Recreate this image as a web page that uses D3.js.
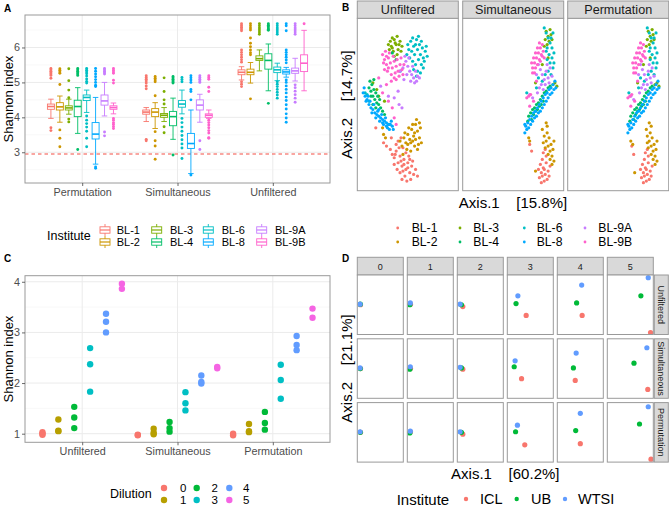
<!DOCTYPE html>
<html><head><meta charset="utf-8">
<script src="https://cdn.jsdelivr.net/npm/d3@7"></script>
<style>
body{margin:0;background:#fff}
text{font-family:"Liberation Sans",Arial,Helvetica,sans-serif}
</style>
</head><body>
<svg id="chart" width="669" height="507"></svg>
<script>
// ---------------- DATA ----------------
// Panel A
const boxGroups = ["BL-1","BL-2","BL-3","BL-4","BL-6","BL-8","BL-9A","BL-9B"];
const boxColors = ["#F8766D","#CD9600","#7CAE00","#00BE67","#00BFC4","#00A9FF","#C77CFF","#FF61CC"];
const conditionsA = ["Permutation","Simultaneous","Unfiltered"];
const yTicksA = [3,4,5,6];
const thresholdA = 2.95;
// [lower whisker, q1, median, q3, upper whisker]
const statsPermutation = [[3.97,4.23,4.31,4.38,4.52],[3.86,4.21,4.30,4.42,4.61],[4.09,4.21,4.27,4.33,4.52],[3.54,4.02,4.31,4.49,4.85],[4.14,4.48,4.57,4.64,4.78],[2.66,3.38,3.52,3.85,4.57],[4.04,4.35,4.47,4.64,5.00],[4.10,4.23,4.28,4.33,4.41]];
const statsSimultaneous = [[3.88,4.09,4.15,4.21,4.28],[3.68,4.02,4.15,4.25,4.42],[3.88,4.00,4.06,4.11,4.28],[3.37,3.76,4.02,4.17,4.55],[4.10,4.29,4.38,4.48,4.78],[2.39,3.11,3.25,3.54,4.21],[3.86,4.21,4.35,4.50,4.66],[3.97,4.00,4.06,4.10,4.21]];
const statsUnfiltered = [[5.07,5.22,5.29,5.36,5.45],[4.98,5.22,5.29,5.38,5.57],[5.33,5.63,5.68,5.76,5.93],[4.76,5.38,5.63,5.82,6.10],[5.05,5.28,5.36,5.44,5.55],[5.15,5.24,5.30,5.36,5.43],[5.04,5.26,5.33,5.41,5.69],[4.76,5.31,5.55,5.79,6.49]];
const outliersPermutation = [[5.40,5.36,5.32,5.28,5.24,5.20,5.12,3.70,3.62],[5.39,5.35,5.30,5.26,4.94,3.64,3.40,3.16],[5.39,5.05,4.78,4.56,3.95,3.87],[5.40,5.36,5.32,5.28,5.24,5.20,3.08],[5.40,5.35,5.30,5.25,5.18,5.10,5.03,4.98,4.04,3.92,3.82,3.72,3.60,3.40,3.16],[5.40,5.32,5.24,5.16,5.08,5.00,4.92,4.88,2.58,2.54],[5.40,5.36,5.32,5.28,5.24,3.58,3.47],[5.40,5.35,5.30,5.26,5.06,4.98,3.97,3.92,3.85,3.80,3.74,3.68]];
const outliersSimultaneous = [[5.19,5.14,5.09,5.04,4.98,4.90,4.82,3.37,3.33],[5.17,5.12,5.07,5.02,4.62,3.59,3.33,3.18,2.80],[5.13,4.74,4.50,4.38,3.73,3.56],[5.17,5.13,5.09,5.05,5.01,4.98,2.92],[5.14,5.08,5.02,3.97,3.85,3.72,3.60,3.48,3.36,3.24,3.12,2.82],[5.19,5.13,5.07,5.00,4.80,4.74,4.50,2.35],[5.19,5.14,5.09,5.04,5.00,3.33,3.08],[5.19,5.14,5.09,4.86,4.74,3.92,3.85,3.78,3.70,3.62,3.55,3.42,3.40]];
const outliersUnfiltered = [[6.68,6.63,6.58,6.53,6.48,5.93,5.86,5.79,5.72,5.65,5.58,5.02,4.95,4.88],[6.68,6.62,6.56,6.50,6.27,6.12,6.02,5.93,5.85,5.79,4.53],[6.68,6.62,6.56,6.50,6.44,6.38],[6.68,6.64,6.60,6.56,6.52,6.49,4.40],[6.68,6.62,6.56,6.50,6.44,6.38,5.02,4.95,4.88,4.80,4.72,4.64,4.55],[6.68,6.62,6.48,5.93,5.86,5.79,5.72,5.64,5.56,5.07,5.00,4.90,4.80,4.70,4.58,4.48,4.36,4.24,4.10,3.98,3.86],[6.68,6.62,6.56,6.50,6.44,6.38,4.93,4.85,4.75,4.65,4.55,4.43],[6.68]];

// Panel B (PCoA scores, arbitrary units 0-100)
const facetsB = ["Unfiltered","Simultaneous","Permutation"];
const pcoaUnfiltered = [
[[17,36],[25,27],[28,25],[32,23],[34,20],[36,18],[38,22],[40,15],[42,19],[44,13],[46,17],[48,11],[50,15],[52,9],[54,13],[56,8],[45,24],[40,28],[43,30],[48,21],[51,19],[47,7],[53,5],[58,11],[36,14],[39,11],[42,9],[44,5],[50,12],[46,14],[41,24],[38,26],[55,16],[60,7],[33,30],[45,10],[49,4],[43,16],[37,20],[52,17]],
[[24,36],[25,32],[27,30],[42,28],[44,25],[46,30],[48,27],[50,32],[52,29],[54,35],[56,31],[58,38],[60,34],[62,30],[64,27],[57,25],[53,22],[49,23],[45,20],[60,23],[55,28],[51,36],[59,41],[63,36],[47,33],[61,26],[57,33],[53,27],[55,38],[62,39],[58,29],[50,26]],
[[30,86],[32,88],[34,84],[36,89],[38,86],[40,83],[42,88],[44,85],[35,82],[39,80],[33,85],[41,86],[37,87],[43,82],[31,83],[36,79],[14,63],[20,55],[26,52],[18,59],[39,91],[34,90]],
[[10,60],[12,58],[13,62],[14,55],[15,59],[16,53],[17,57],[18,51],[19,55],[20,50],[21,53],[12,55],[14,50],[22,48],[24,46],[31,38],[17,48],[26,44],[34,81],[38,77],[11,64],[15,65]],
[[50,86],[53,88],[56,85],[59,89],[62,86],[65,84],[68,82],[54,82],[57,80],[60,83],[63,80],[66,78],[52,78],[55,76],[58,74],[61,77],[64,74],[67,76],[70,79],[56,71],[60,70],[63,69],[51,83],[58,86],[49,80],[64,88],[8,56],[10,52],[6,57],[42,70],[55,90],[61,91],[69,85],[66,72],[59,67]],
[[4,57],[6,55],[8,53],[10,50],[12,48],[14,47],[16,45],[18,44],[20,43],[22,42],[24,41],[26,40],[28,39],[30,38],[32,38],[34,37],[11,52],[13,45],[17,42],[21,40],[25,38],[9,55],[15,50],[19,46],[23,44],[27,42],[29,36],[33,40],[7,52],[35,35],[5,60],[20,47],[24,39],[28,37],[31,35]],
[[48,76],[50,73],[52,70],[54,68],[56,66],[58,70],[60,67],[47,79],[51,78],[55,73],[53,64],[57,63],[45,72],[42,70],[40,58],[44,48],[22,61],[30,55],[36,54],[41,50],[49,68],[46,65],[59,64],[62,66]],
[[24,80],[26,77],[28,74],[30,78],[32,75],[34,72],[36,76],[38,73],[40,70],[42,74],[44,71],[27,82],[29,70],[33,68],[37,69],[41,67],[25,75],[31,81],[35,79],[39,77],[43,78],[45,68],[30,72],[36,66],[28,79],[46,74],[24,57],[30,52],[34,48],[36,42],[38,38],[20,66],[28,62],[33,64],[26,71],[38,65]]
];
const pcoaSimultaneous = [
[[77,6],[79,9],[81,12],[83,8],[85,5],[78,14],[80,17],[82,11],[84,15],[86,10],[88,13],[79,3],[82,4],[76,11],[84,19],[81,21],[87,7],[67,26],[69,22],[83,23],[80,7]],
[[80,35],[82,31],[84,28],[86,25],[88,22],[90,19],[85,33],[87,30],[89,26],[91,23],[83,24],[86,20],[88,17],[90,14],[92,28],[81,27],[85,37],[66,30],[67,28],[73,10],[92,16],[84,39]],
[[84,94],[86,91],[88,95],[83,89],[87,88],[85,86],[89,92],[82,85],[90,89],[93,63],[91,62],[95,61],[80,74],[86,78],[73,63]],
[[66,43],[68,45],[70,47],[72,48],[74,50],[76,51],[78,53],[80,55],[82,57],[84,58],[86,60],[88,61],[71,44],[75,47],[79,50],[65,40],[69,41],[73,46],[77,49],[81,52]],
[[82,96],[84,93],[86,90],[88,87],[90,84],[92,81],[89,90],[87,80],[85,77],[88,75],[91,72],[84,82],[90,78],[86,70],[83,68],[89,68],[92,75],[85,84],[91,93],[76,66],[80,64],[64,57],[74,60]],
[[62,33],[63,37],[65,39],[67,41],[69,43],[71,45],[73,46],[75,48],[77,50],[79,52],[81,54],[83,56],[85,57],[87,59],[89,60],[91,62],[93,64],[64,35],[66,36],[70,40],[74,43],[78,46],[82,50],[86,54],[90,57],[94,60],[62,38],[68,38],[72,42],[76,45],[80,48],[84,52],[88,56],[92,59]],
[[76,74],[78,71],[80,68],[82,65],[84,70],[86,66],[88,72],[79,62],[83,62],[87,63],[74,68],[77,60],[81,59],[75,57],[67,56],[70,54],[90,67],[85,74]],
[[70,72],[72,75],[74,78],[76,81],[78,84],[80,86],[71,78],[73,81],[75,84],[77,87],[79,80],[81,82],[69,75],[73,72],[77,77],[75,74],[82,78],[70,69],[78,76],[80,79],[66,55],[64,54],[68,56],[71,52],[67,49],[72,69],[74,64]]
];
const pcoaPermutation = [
[[74,6],[76,9],[78,12],[80,8],[82,5],[75,14],[77,17],[79,11],[81,15],[83,10],[85,13],[76,3],[79,4],[73,11],[81,19],[78,21],[84,7],[64,25],[66,20],[80,23],[77,7]],
[[79,35],[80,31],[82,28],[84,25],[86,22],[88,19],[83,33],[85,30],[87,26],[89,23],[81,24],[84,20],[86,17],[88,14],[90,28],[80,27],[84,37],[63,28],[65,26],[67,9],[90,16],[82,39]],
[[81,94],[83,91],[85,95],[80,89],[84,88],[82,86],[86,92],[79,85],[87,89],[90,63],[88,62],[92,61],[76,74],[83,78],[70,63]],
[[63,43],[65,45],[67,47],[69,48],[71,50],[73,51],[75,53],[77,55],[79,57],[81,58],[83,60],[85,61],[68,44],[72,47],[76,50],[62,40],[66,41],[70,46],[74,49],[78,52]],
[[80,96],[82,93],[84,90],[86,87],[88,84],[90,81],[87,90],[85,80],[83,77],[86,75],[89,72],[82,82],[88,78],[84,70],[81,68],[87,68],[90,75],[83,84],[89,93],[73,66],[77,64],[61,57],[71,60]],
[[60,33],[61,37],[63,39],[65,41],[67,43],[69,45],[71,46],[73,48],[75,50],[77,52],[79,54],[81,56],[83,57],[85,59],[87,60],[89,62],[91,64],[62,35],[64,36],[68,40],[72,43],[76,46],[80,50],[84,54],[88,57],[92,60],[60,38],[66,38],[70,42],[74,45],[78,48],[82,52],[86,56],[90,59]],
[[73,74],[75,71],[77,68],[79,65],[81,70],[83,66],[85,72],[76,62],[80,62],[84,63],[71,68],[74,60],[78,59],[72,57],[63,55],[66,53],[87,67],[82,74]],
[[66,72],[68,75],[70,78],[72,81],[74,84],[76,86],[67,78],[69,81],[71,84],[73,87],[75,80],[77,82],[65,75],[69,72],[73,77],[71,74],[78,78],[66,69],[74,76],[76,79],[62,55],[60,54],[64,56],[67,52],[63,49],[68,69],[70,64]]
];
const axisTitleB = ["Axis.1    [15.8%]","Axis.2    [14.7%]"];

// Panel C
const conditionsC = ["Unfiltered","Simultaneous","Permutation"];
const dilutions = ["0","1","2","3","4","5"];
const dilutionColors = ["#F8766D","#B79F00","#00BA38","#00BFC4","#619CFF","#F564E3"];
const yTicksC = [1,2,3,4];
const shannonUnfiltered = [[1.03,1.00,0.98],[1.28,1.06,1.05],[1.53,1.32,1.11],[2.69,2.37,1.83],[3.37,3.21,3.00],[3.96,3.86]];
const shannonSimultaneous = [[0.98,0.97],[1.10,1.02,0.99],[1.23,1.11,1.04],[1.82,1.60,1.46],[2.15,2.02,1.99],[2.32,2.29]];
const shannonPermutation = [[1.00,0.97],[1.19,1.05,1.03],[1.43,1.21,1.08],[2.36,2.06,1.69],[2.93,2.75,2.65],[3.47,3.29]];

// Panel D  (per dilution: ICL, UB, WTSI as [Axis.1, Axis.2])
const institutesD = ["ICL","UB","WTSI"];
const instituteColors = ["#F8766D","#00BA38","#619CFF"];
const rowsD = ["Unfiltered","Simultaneous","Permutation"];
const pcoaDUnfiltered = [[[0.07,0.50],[0.065,0.51],[0.06,0.51]],[[0.07,0.51],[0.055,0.50],[0.065,0.53]],[[0.12,0.47],[0.09,0.50],[0.06,0.51]],[[0.41,0.32],[0.19,0.52],[0.23,0.65]],[[0.54,0.32],[0.42,0.53],[0.53,0.83]],[[0.94,0.03],[0.73,0.65],[0.89,0.955]]];
const pcoaDSimultaneous = [[[0.07,0.50],[0.065,0.50],[0.06,0.51]],[[0.07,0.50],[0.055,0.49],[0.065,0.53]],[[0.12,0.49],[0.09,0.51],[0.06,0.52]],[[0.31,0.33],[0.15,0.53],[0.17,0.63]],[[0.39,0.30],[0.35,0.51],[0.41,0.76]],[[0.88,0.15],[0.58,0.59],[0.86,0.85]]];
const pcoaDPermutation = [[[0.07,0.50],[0.065,0.50],[0.06,0.51]],[[0.07,0.51],[0.055,0.49],[0.065,0.52]],[[0.12,0.47],[0.09,0.50],[0.06,0.51]],[[0.38,0.29],[0.18,0.51],[0.22,0.62]],[[0.50,0.31],[0.40,0.53],[0.50,0.82]],[[0.95,0.05],[0.70,0.64],[0.89,0.93]]];
const axisTitleD = ["Axis.1    [60.2%]","Axis.2    [21.1%]"];

// ---------------- DRAWING ----------------
const svg = d3.select("#chart");
const BORDER = "#9A9A9A", GRID = "#EBEBEB", GRIDMINOR = "#F4F4F4", TICKTXT = "#4D4D4D";

function text(g, x, y, s, o = {}) {
  const t = g.append("text").attr("x", x).attr("y", y).text(s)
    .attr("font-size", o.size || 11).attr("fill", o.fill || "#000")
    .attr("text-anchor", o.anchor || "start")
    .attr("dominant-baseline", o.base || "central")
    .style("white-space", "pre");
  if (o.weight) t.attr("font-weight", o.weight);
  if (o.rotate) t.attr("transform", `rotate(${o.rotate},${x},${y})`);
  return t;
}
function styleAxis(sel) {
  sel.select(".domain").remove();
  sel.selectAll(".tick line").attr("stroke", "#444").attr("stroke-width", 0.8);
  sel.selectAll(".tick text").attr("fill", TICKTXT).attr("font-size", 10.8)
    .attr("font-family", '"Liberation Sans",Arial,sans-serif');
}
const intFmt = d3.format("d");

// panel letters
text(svg, 4, 8, "A", {size: 10, weight: "bold"});
text(svg, 342, 7, "B", {size: 10, weight: "bold"});
text(svg, 4, 258, "C", {size: 10, weight: "bold"});
text(svg, 342, 258, "D", {size: 10, weight: "bold"});

// ===== Panel A =====
(function(){
  const L = 25, R = 330, T = 15, B = 183;
  const g = svg.append("g");
  const x = d3.scalePoint().domain(conditionsA).range([L, R]).padding(0.6);
  const y = d3.scaleLinear().domain([2.12, 6.93]).range([B, T]);
  const minor = [2.5,3.5,4.5,5.5,6.5];
  g.selectAll(".mi").data(minor).join("line").attr("x1", L).attr("x2", R)
    .attr("y1", d => y(d)).attr("y2", d => y(d)).attr("stroke", GRIDMINOR).attr("stroke-width", 0.6);
  g.selectAll(".ma").data(yTicksA).join("line").attr("x1", L).attr("x2", R)
    .attr("y1", d => y(d)).attr("y2", d => y(d)).attr("stroke", GRID).attr("stroke-width", 1);
  g.selectAll(".vx").data(conditionsA).join("line").attr("y1", T).attr("y2", B)
    .attr("x1", d => x(d)).attr("x2", d => x(d)).attr("stroke", GRID).attr("stroke-width", 1);
  g.append("line").attr("x1", L).attr("x2", R).attr("y1", y(thresholdA)).attr("y2", y(thresholdA))
    .attr("stroke", "#F8766D").attr("stroke-width", 1.6).attr("stroke-dasharray", "3.5,3").attr("opacity", 0.85);
  const stats = [statsPermutation, statsSimultaneous, statsUnfiltered];
  const outs = [outliersPermutation, outliersSimultaneous, outliersUnfiltered];
  const slot = x.step() * 0.75 / boxGroups.length;
  const bw = 7, cw = 5.5;
  conditionsA.forEach((c, ci) => {
    boxGroups.forEach((b, bi) => {
      const cx = x(c) + (bi - (boxGroups.length - 1) / 2) * slot;
      const s = stats[ci][bi], col = boxColors[bi];
      const bg = g.append("g");
      bg.selectAll("circle").data(outs[ci][bi]).join("circle")
        .attr("cx", cx).attr("cy", d => y(d)).attr("r", 1.45).attr("fill", col);
      bg.append("line").attr("x1", cx).attr("x2", cx).attr("y1", y(s[0])).attr("y2", y(s[4]))
        .attr("stroke", col).attr("stroke-width", 0.9);
      [s[0], s[4]].forEach(v => bg.append("line").attr("x1", cx - cw/2).attr("x2", cx + cw/2)
        .attr("y1", y(v)).attr("y2", y(v)).attr("stroke", col).attr("stroke-width", 0.9));
      bg.append("rect").attr("x", cx - bw/2).attr("width", bw).attr("y", y(s[3]))
        .attr("height", y(s[1]) - y(s[3])).attr("fill", "#fff").attr("stroke", col).attr("stroke-width", 0.9);
      bg.append("line").attr("x1", cx - bw/2).attr("x2", cx + bw/2).attr("y1", y(s[2])).attr("y2", y(s[2]))
        .attr("stroke", col).attr("stroke-width", 1.6);
    });
  });
  g.append("rect").attr("x", L).attr("y", T).attr("width", R - L).attr("height", B - T)
    .attr("fill", "none").attr("stroke", BORDER).attr("stroke-width", 1);
  const ay = g.append("g").attr("transform", `translate(${L},0)`)
    .call(d3.axisLeft(y).tickValues(yTicksA).tickFormat(intFmt).tickSize(3).tickPadding(2));
  styleAxis(ay);
  const ax = g.append("g").attr("transform", `translate(0,${B})`)
    .call(d3.axisBottom(x).tickSize(3).tickPadding(2));
  styleAxis(ax);
  text(g, 8, (T + B) / 2, "Shannon index", {size: 13, anchor: "middle", rotate: -90});
  // legend
  text(g, 47, 236, "Institute", {size: 12.5});
  const keyX = [105, 156.7, 208.3, 261.7], labX = [116.7, 170, 221.7, 275], rowY = [230, 242];
  boxGroups.forEach((b, i) => {
    const kx = keyX[Math.floor(i / 2)], ky = rowY[i % 2], col = boxColors[i];
    g.append("line").attr("x1", kx).attr("x2", kx).attr("y1", ky - 6).attr("y2", ky + 6).attr("stroke", col).attr("stroke-width", 0.9);
    g.append("rect").attr("x", kx - 5).attr("y", ky - 3.2).attr("width", 10).attr("height", 6.4)
      .attr("fill", "#fff").attr("stroke", col).attr("stroke-width", 0.9);
    g.append("line").attr("x1", kx - 5).attr("x2", kx + 5).attr("y1", ky).attr("y2", ky).attr("stroke", col).attr("stroke-width", 1.2);
    text(g, labX[Math.floor(i / 2)], ky, b, {size: 11});
  });
})();

// ===== Panel B =====
(function(){
  const lefts = [357.3, 462.7, 567.7], W = 101, T = 18.3, B = 190.7, ST = 1;
  const g = svg.append("g");
  const data = [pcoaUnfiltered, pcoaSimultaneous, pcoaPermutation];
  facetsB.forEach((f, fi) => {
    const L = lefts[fi];
    const x = d3.scaleLinear().domain([0, 100]).range([L + 2, L + W - 2]);
    const y = d3.scaleLinear().domain([0, 100]).range([B - 3, T + 3]);
    g.append("rect").attr("x", L).attr("y", T).attr("width", W).attr("height", B - T).attr("fill", "#fff");
    data[fi].forEach((pts, gi) => {
      g.append("g").selectAll("circle").data(pts).join("circle")
        .attr("cx", d => x(d[0])).attr("cy", d => y(d[1])).attr("r", 1.6).attr("fill", boxColors[gi]);
    });
    g.append("rect").attr("x", L).attr("y", T).attr("width", W).attr("height", B - T)
      .attr("fill", "none").attr("stroke", BORDER).attr("stroke-width", 1);
    g.append("rect").attr("x", L).attr("y", ST).attr("width", W).attr("height", T - ST)
      .attr("fill", "#D9D9D9").attr("stroke", BORDER).attr("stroke-width", 1);
    text(g, L + W / 2, (ST + T) / 2 + 0.5, f, {size: 12.6, anchor: "middle", fill: "#1A1A1A"});
  });
  text(g, 513, 202, axisTitleB[0], {size: 15, anchor: "middle"});
  text(g, 346, 104.5, axisTitleB[1], {size: 15, anchor: "middle", rotate: -90});
  const keyX = [397.7, 460, 524.3, 585], labX = [411.7, 473.3, 536.7, 598.3], rowY = [228, 242];
  boxGroups.forEach((b, i) => {
    const kx = keyX[Math.floor(i / 2)], ky = rowY[i % 2];
    g.append("circle").attr("cx", kx).attr("cy", ky).attr("r", 1.4).attr("fill", boxColors[i]);
    text(g, labX[Math.floor(i / 2)], ky, b, {size: 12.2});
  });
})();

// ===== Panel C =====
(function(){
  const L = 25, R = 330, T = 275.7, B = 442.3;
  const g = svg.append("g");
  const x = d3.scalePoint().domain(conditionsC).range([L, R]).padding(0.6);
  const y = d3.scaleLinear().domain([0.83, 4.12]).range([B, T]);
  const minor = [1.5, 2.5, 3.5];
  g.selectAll(".mi").data(minor).join("line").attr("x1", L).attr("x2", R)
    .attr("y1", d => y(d)).attr("y2", d => y(d)).attr("stroke", GRIDMINOR).attr("stroke-width", 0.6);
  g.selectAll(".ma").data(yTicksC).join("line").attr("x1", L).attr("x2", R)
    .attr("y1", d => y(d)).attr("y2", d => y(d)).attr("stroke", GRID).attr("stroke-width", 1);
  g.selectAll(".vx").data(conditionsC).join("line").attr("y1", T).attr("y2", B)
    .attr("x1", d => x(d)).attr("x2", d => x(d)).attr("stroke", GRID).attr("stroke-width", 1);
  const data = [shannonUnfiltered, shannonSimultaneous, shannonPermutation];
  const slot = x.step() * 1.0 / dilutions.length;
  conditionsC.forEach((c, ci) => {
    dilutions.forEach((d, di) => {
      const cx = x(c) + (di - (dilutions.length - 1) / 2) * slot;
      g.append("g").selectAll("circle").data(data[ci][di]).join("circle")
        .attr("cx", cx).attr("cy", v => y(v)).attr("r", 3.2).attr("fill", dilutionColors[di]);
    });
  });
  g.append("rect").attr("x", L).attr("y", T).attr("width", R - L).attr("height", B - T)
    .attr("fill", "none").attr("stroke", BORDER).attr("stroke-width", 1);
  const ay = g.append("g").attr("transform", `translate(${L},0)`)
    .call(d3.axisLeft(y).tickValues(yTicksC).tickFormat(intFmt).tickSize(3).tickPadding(2));
  styleAxis(ay);
  const ax = g.append("g").attr("transform", `translate(0,${B})`)
    .call(d3.axisBottom(x).tickSize(3).tickPadding(2));
  styleAxis(ax);
  text(g, 8, (T + B) / 2, "Shannon index", {size: 13, anchor: "middle", rotate: -90});
  text(g, 110, 494, "Dilution", {size: 12.5});
  const keyX = [164, 196.7, 229.3], labX = [180, 211.5, 243], rowY = [488, 500];
  dilutions.forEach((d, i) => {
    const kx = keyX[Math.floor(i / 2)], ky = rowY[i % 2];
    g.append("circle").attr("cx", kx).attr("cy", ky).attr("r", 3.2).attr("fill", dilutionColors[i]);
    text(g, labX[Math.floor(i / 2)], ky, d, {size: 11.5});
  });
})();

// ===== Panel D =====
(function(){
  const g = svg.append("g");
  const L0 = 357.3, W = 46, GAP = 4, ST = 257.3, T = 275, H = 59.5, RG = 4.3;
  const data = [pcoaDUnfiltered, pcoaDSimultaneous, pcoaDPermutation];
  const defs = svg.append("defs");
  dilutions.forEach((d, ci) => {
    const L = L0 + ci * (W + GAP);
    g.append("rect").attr("x", L).attr("y", ST).attr("width", W).attr("height", T - ST)
      .attr("fill", "#D9D9D9").attr("stroke", BORDER).attr("stroke-width", 1);
    text(g, L + W / 2, (ST + T) / 2 + 0.5, d, {size: 9, anchor: "middle", fill: "#1A1A1A"});
    rowsD.forEach((r, ri) => {
      const top = T + ri * (H + RG);
      const x = d3.scaleLinear().domain([0, 1]).range([L, L + W]);
      const y = d3.scaleLinear().domain([0, 1]).range([top + H, top]);
      const id = `clipD${ci}_${ri}`;
      defs.append("clipPath").attr("id", id).append("rect").attr("x", L).attr("y", top).attr("width", W).attr("height", H);
      g.append("rect").attr("x", L).attr("y", top).attr("width", W).attr("height", H).attr("fill", "#fff");
      g.append("g").attr("clip-path", `url(#${id})`).selectAll("circle").data(data[ri][ci]).join("circle")
        .attr("cx", p => x(p[0])).attr("cy", p => y(p[1])).attr("r", 2.6)
        .attr("fill", (p, k) => instituteColors[k]);
      g.append("rect").attr("x", L).attr("y", top).attr("width", W).attr("height", H)
        .attr("fill", "none").attr("stroke", BORDER).attr("stroke-width", 1);
    });
  });
  const SL = L0 + 6 * (W + GAP) - GAP + 1;
  rowsD.forEach((r, ri) => {
    const top = T + ri * (H + RG);
    g.append("rect").attr("x", SL).attr("y", top).attr("width", 668.3 - SL).attr("height", H)
      .attr("fill", "#D9D9D9").attr("stroke", BORDER).attr("stroke-width", 1);
    text(g, (SL + 668.3) / 2, top + H / 2, r, {size: 9, anchor: "middle", fill: "#1A1A1A", rotate: 90});
  });
  text(g, 505.3, 473, axisTitleD[0], {size: 15, anchor: "middle"});
  text(g, 346, 368.5, axisTitleD[1], {size: 15, anchor: "middle", rotate: -90});
  text(g, 396.7, 499, "Institute", {size: 15});
  const keyX = [466, 516.7, 565], labX = [480, 531, 578];
  institutesD.forEach((n, i) => {
    g.append("circle").attr("cx", keyX[i]).attr("cy", 499).attr("r", 2.2).attr("fill", instituteColors[i]);
    text(g, labX[i], 499, n, {size: 14.5});
  });
})();
</script>
</body></html>
